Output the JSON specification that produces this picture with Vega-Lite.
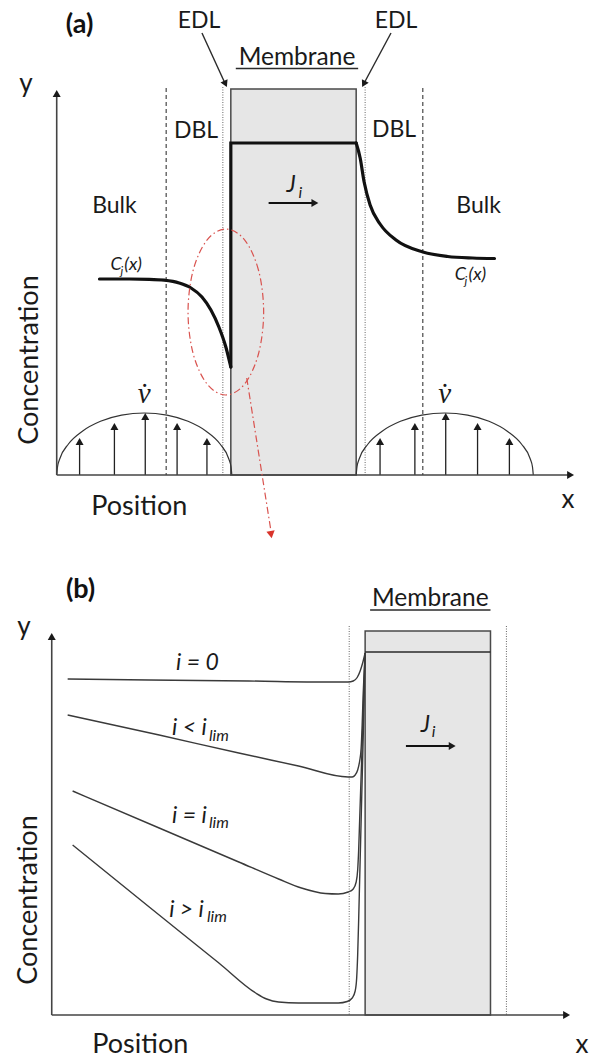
{
  "$schema": "https://vega.github.io/schema/vega-lite/v6.json",
  "width": 589,
  "height": 1059,
  "autosize": {"type": "fit", "contains": "padding"},
  "padding": 0,
  "background": "white",
  "config": {"view": {"stroke": null}},
  "datasets": {
    "membranes": [
      {"x": 232, "x2": 358, "y": 89, "y2": 475},
      {"x": 367, "x2": 493, "y": 631, "y2": 1015}
    ],
    "dbl": [
      {"x": 167, "y": 88, "y2": 475},
      {"x": 425, "y": 88, "y2": 475}
    ],
    "edl": [
      {"x": 224, "y": 87, "y2": 475},
      {"x": 367, "y": 87, "y2": 475},
      {"x": 351, "y": 626, "y2": 1015},
      {"x": 509, "y": 626, "y2": 1015}
    ],
    "axes": [
      {"x": 57, "y": 475, "x2": 57, "y2": 94},
      {"x": 57, "y": 475, "x2": 572, "y2": 475},
      {"x": 52, "y": 1015, "x2": 52, "y2": 637},
      {"x": 52, "y": 1015, "x2": 568, "y2": 1015}
    ],
    "thinRules": [
      {"x": 367, "y": 652, "x2": 493, "y2": 652},
      {"x": 237, "y": 68.5, "x2": 360, "y2": 68.5},
      {"x": 372, "y": 610, "x2": 493, "y2": 610},
      {"x": 203, "y": 33, "x2": 226.5, "y2": 84},
      {"x": 393, "y": 33, "x2": 365.5, "y2": 84}
    ],
    "fluxArrows": [
      {"x": 270, "y": 203, "x2": 315, "y2": 203},
      {"x": 408, "y": 746, "x2": 453, "y2": 746}
    ],
    "redPointer": [
      {"x": 248, "y": 378, "x2": 272.5, "y2": 532}
    ],
    "velocity": [
      {"x": 80, "y": 475, "y2": 442},
      {"x": 115, "y": 475, "y2": 427},
      {"x": 146, "y": 475, "y2": 417},
      {"x": 178, "y": 475, "y2": 427},
      {"x": 208, "y": 475, "y2": 442},
      {"x": 382, "y": 475, "y2": 442},
      {"x": 417, "y": 475, "y2": 427},
      {"x": 448, "y": 475, "y2": 417},
      {"x": 480, "y": 475, "y2": 427},
      {"x": 512, "y": 475, "y2": 442}
    ],
    "arrowheads": [
      {"dir": "up", "x": 57, "y": 93.5},
      {"dir": "up", "x": 52, "y": 636.5},
      {"dir": "up", "x": 80, "y": 441.5},
      {"dir": "up", "x": 115, "y": 426.5},
      {"dir": "up", "x": 146, "y": 416.5},
      {"dir": "up", "x": 178, "y": 426.5},
      {"dir": "up", "x": 208, "y": 441.5},
      {"dir": "up", "x": 382, "y": 441.5},
      {"dir": "up", "x": 417, "y": 426.5},
      {"dir": "up", "x": 448, "y": 416.5},
      {"dir": "up", "x": 480, "y": 426.5},
      {"dir": "up", "x": 512, "y": 441.5},
      {"dir": "right", "x": 573.5, "y": 475},
      {"dir": "right", "x": 569.5, "y": 1015},
      {"dir": "right", "x": 316.5, "y": 203},
      {"dir": "right", "x": 454.5, "y": 746},
      {"dir": "edlL", "x": 226.6, "y": 83.9},
      {"dir": "edlR", "x": 365.6, "y": 84},
      {"dir": "red", "x": 272.5, "y": 534.6}
    ],
    "arcs": [
      {"side": "L", "x": 57, "y": 475},
      {"side": "L", "x": 57.8, "y": 466.9},
      {"side": "L", "x": 60, "y": 459},
      {"side": "L", "x": 68.8, "y": 444},
      {"side": "L", "x": 82.8, "y": 431.2},
      {"side": "L", "x": 101, "y": 421.3},
      {"side": "L", "x": 122.2, "y": 415.1},
      {"side": "L", "x": 145, "y": 413},
      {"side": "L", "x": 167.8, "y": 415.1},
      {"side": "L", "x": 189, "y": 421.3},
      {"side": "L", "x": 207.2, "y": 431.2},
      {"side": "L", "x": 221.2, "y": 444},
      {"side": "L", "x": 230, "y": 459},
      {"side": "L", "x": 232.2, "y": 466.9},
      {"side": "L", "x": 233, "y": 475},
      {"side": "R", "x": 358, "y": 475},
      {"side": "R", "x": 358.8, "y": 466.9},
      {"side": "R", "x": 361, "y": 459},
      {"side": "R", "x": 369.9, "y": 444},
      {"side": "R", "x": 384.1, "y": 431.2},
      {"side": "R", "x": 402.5, "y": 421.3},
      {"side": "R", "x": 424, "y": 415.1},
      {"side": "R", "x": 447, "y": 413},
      {"side": "R", "x": 470, "y": 415.1},
      {"side": "R", "x": 491.5, "y": 421.3},
      {"side": "R", "x": 509.9, "y": 431.2},
      {"side": "R", "x": 524.1, "y": 444},
      {"side": "R", "x": 533, "y": 459},
      {"side": "R", "x": 535.2, "y": 466.9},
      {"side": "R", "x": 536, "y": 475}
    ],
    "profileA": [
      {"part": "left", "k": 0, "x": 100, "y": 279},
      {"part": "left", "k": 1, "x": 130, "y": 279},
      {"part": "left", "k": 2, "x": 150, "y": 279.3},
      {"part": "left", "k": 3, "x": 165, "y": 280.2},
      {"part": "left", "k": 4, "x": 180, "y": 283},
      {"part": "left", "k": 5, "x": 192, "y": 288},
      {"part": "left", "k": 6, "x": 203, "y": 297},
      {"part": "left", "k": 7, "x": 212, "y": 310},
      {"part": "left", "k": 8, "x": 220, "y": 327},
      {"part": "left", "k": 9, "x": 227, "y": 347},
      {"part": "left", "k": 10, "x": 232, "y": 367},
      {"part": "step", "k": 11, "x": 232, "y": 367},
      {"part": "step", "k": 12, "x": 232, "y": 143},
      {"part": "step", "k": 13, "x": 358, "y": 143},
      {"part": "right", "k": 14, "x": 358, "y": 143},
      {"part": "right", "k": 15, "x": 362, "y": 158},
      {"part": "right", "k": 16, "x": 366, "y": 182},
      {"part": "right", "k": 17, "x": 372, "y": 205},
      {"part": "right", "k": 18, "x": 382, "y": 224},
      {"part": "right", "k": 19, "x": 398, "y": 240},
      {"part": "right", "k": 20, "x": 425, "y": 252},
      {"part": "right", "k": 21, "x": 450, "y": 256.5},
      {"part": "right", "k": 22, "x": 475, "y": 258},
      {"part": "right", "k": 23, "x": 497, "y": 258.5}
    ],
    "curvesB": [
      {"s": "i0", "x": 68, "y": 679},
      {"s": "i0", "x": 150, "y": 680},
      {"s": "i0", "x": 250, "y": 681},
      {"s": "i0", "x": 330, "y": 682},
      {"s": "i0", "x": 350, "y": 682},
      {"s": "i0", "x": 355, "y": 681},
      {"s": "i0", "x": 359, "y": 677.5},
      {"s": "i0", "x": 362, "y": 671},
      {"s": "i0", "x": 364.5, "y": 663},
      {"s": "i0", "x": 367, "y": 653},
      {"s": "ilt", "x": 68, "y": 715},
      {"s": "ilt", "x": 160, "y": 735},
      {"s": "ilt", "x": 240, "y": 753},
      {"s": "ilt", "x": 300, "y": 766},
      {"s": "ilt", "x": 350, "y": 777},
      {"s": "ilt", "x": 354, "y": 777},
      {"s": "ilt", "x": 357, "y": 775},
      {"s": "ilt", "x": 359.5, "y": 770},
      {"s": "ilt", "x": 361.5, "y": 761},
      {"s": "ilt", "x": 363, "y": 748},
      {"s": "ilt", "x": 364, "y": 725},
      {"s": "ilt", "x": 365, "y": 695},
      {"s": "ilt", "x": 366, "y": 672},
      {"s": "ilt", "x": 367, "y": 653},
      {"s": "ieq", "x": 73, "y": 791},
      {"s": "ieq", "x": 160, "y": 828},
      {"s": "ieq", "x": 240, "y": 862},
      {"s": "ieq", "x": 280, "y": 879},
      {"s": "ieq", "x": 303, "y": 888},
      {"s": "ieq", "x": 327, "y": 893.5},
      {"s": "ieq", "x": 340, "y": 894},
      {"s": "ieq", "x": 350, "y": 892},
      {"s": "ieq", "x": 355, "y": 889},
      {"s": "ieq", "x": 358, "y": 882},
      {"s": "ieq", "x": 359.5, "y": 870},
      {"s": "ieq", "x": 360.5, "y": 850},
      {"s": "ieq", "x": 361.5, "y": 820},
      {"s": "ieq", "x": 362.5, "y": 790},
      {"s": "ieq", "x": 363.5, "y": 760},
      {"s": "ieq", "x": 365, "y": 715},
      {"s": "ieq", "x": 366, "y": 680},
      {"s": "ieq", "x": 367, "y": 653},
      {"s": "igt", "x": 73, "y": 845},
      {"s": "igt", "x": 150, "y": 907},
      {"s": "igt", "x": 220, "y": 963},
      {"s": "igt", "x": 257, "y": 993},
      {"s": "igt", "x": 268, "y": 999},
      {"s": "igt", "x": 280, "y": 1002},
      {"s": "igt", "x": 300, "y": 1003},
      {"s": "igt", "x": 340, "y": 1003},
      {"s": "igt", "x": 349, "y": 1001.5},
      {"s": "igt", "x": 354, "y": 998},
      {"s": "igt", "x": 357, "y": 991},
      {"s": "igt", "x": 358.5, "y": 978},
      {"s": "igt", "x": 359.5, "y": 955},
      {"s": "igt", "x": 360.5, "y": 920},
      {"s": "igt", "x": 361.5, "y": 880},
      {"s": "igt", "x": 362.5, "y": 840},
      {"s": "igt", "x": 363.5, "y": 800},
      {"s": "igt", "x": 364.5, "y": 760},
      {"s": "igt", "x": 365.5, "y": 720},
      {"s": "igt", "x": 366.3, "y": 685},
      {"s": "igt", "x": 367, "y": 653}
    ],
    "ellipse": [
      {"k": 0, "x": 265, "y": 312},
      {"k": 1, "x": 259.9, "y": 270.5},
      {"k": 2, "x": 246, "y": 240.1},
      {"k": 3, "x": 227, "y": 229},
      {"k": 4, "x": 208, "y": 240.1},
      {"k": 5, "x": 194.1, "y": 270.5},
      {"k": 6, "x": 189, "y": 312},
      {"k": 7, "x": 194.1, "y": 353.5},
      {"k": 8, "x": 208, "y": 383.9},
      {"k": 9, "x": 227, "y": 395},
      {"k": 10, "x": 246, "y": 383.9},
      {"k": 11, "x": 259.9, "y": 353.5}
    ],
    "labels": [
      {"role": "region", "t": "EDL", "x": 200, "y": 28},
      {"role": "region", "t": "EDL", "x": 398, "y": 28},
      {"role": "region", "t": "DBL", "x": 197, "y": 138},
      {"role": "region", "t": "DBL", "x": 396, "y": 137},
      {"role": "region", "t": "Bulk", "x": 115, "y": 213},
      {"role": "region", "t": "Bulk", "x": 481, "y": 213},
      {"role": "membrane", "t": "Membrane", "x": 298.5, "y": 65},
      {"role": "membrane", "t": "Membrane", "x": 432.5, "y": 606},
      {"role": "axisLetter", "t": "y", "x": 26, "y": 92},
      {"role": "axisLetter", "t": "x", "x": 571, "y": 508},
      {"role": "axisLetter", "t": "y", "x": 24, "y": 635},
      {"role": "axisLetter", "t": "x", "x": 585, "y": 1053},
      {"role": "axisTitle", "t": "Position", "x": 140, "y": 515},
      {"role": "axisTitle", "t": "Position", "x": 141, "y": 1053},
      {"role": "axisTitleV", "t": "Concentration", "x": 38, "y": 360},
      {"role": "axisTitleV", "t": "Concentration", "x": 37, "y": 900},
      {"role": "tag", "t": "(a)", "x": 80, "y": 33},
      {"role": "tag", "t": "(b)", "x": 81, "y": 598},
      {"role": "italic", "t": "i = 0", "x": 177, "y": 670},
      {"role": "italic", "t": "i < i", "x": 173, "y": 735},
      {"role": "italic", "t": "i = i", "x": 173, "y": 823},
      {"role": "italic", "t": "i > i", "x": 170, "y": 917},
      {"role": "italic", "t": "J", "x": 288, "y": 192},
      {"role": "italic", "t": "J", "x": 423, "y": 732},
      {"role": "sub", "t": "lim", "x": 210, "y": 741},
      {"role": "sub", "t": "lim", "x": 210, "y": 828},
      {"role": "sub", "t": "lim", "x": 208, "y": 922},
      {"role": "sub", "t": "i", "x": 300, "y": 198},
      {"role": "sub", "t": "i", "x": 434, "y": 737},
      {"role": "conc", "t": "C", "x": 111, "y": 270},
      {"role": "conc", "t": "(x)", "x": 125, "y": 270},
      {"role": "conc", "t": "C", "x": 457, "y": 280},
      {"role": "conc", "t": "(x)", "x": 471, "y": 280},
      {"role": "concSub", "t": "j", "x": 121, "y": 275},
      {"role": "concSub", "t": "j", "x": 467, "y": 285},
      {"role": "vel", "t": "v̇", "x": 145, "y": 403},
      {"role": "vel", "t": "v̇", "x": 447, "y": 403}
    ]
  },
  "encoding": {
    "x": {"field": "x", "type": "quantitative", "scale": {"domain": [0, 589], "nice": false, "zero": false}, "axis": null},
    "y": {"field": "y", "type": "quantitative", "scale": {"domain": [0, 1059], "nice": false, "zero": false, "reverse": true}, "axis": null}
  },
  "layer": [
    {
      "data": {"name": "membranes"},
      "mark": {"type": "rect", "fill": "#e6e6e6", "stroke": "#4a4a4a", "strokeWidth": 1.5},
      "encoding": {"x2": {"field": "x2"}, "y2": {"field": "y2"}}
    },
    {
      "data": {"name": "dbl"},
      "mark": {"type": "rule", "stroke": "#222222", "strokeWidth": 1, "strokeDash": [4, 3]},
      "encoding": {"y2": {"field": "y2"}}
    },
    {
      "data": {"name": "edl"},
      "mark": {"type": "rule", "stroke": "#666666", "strokeWidth": 1, "strokeDash": [1, 1.5]},
      "encoding": {"y2": {"field": "y2"}}
    },
    {
      "data": {"name": "arcs"},
      "mark": {"type": "line", "stroke": "#333333", "strokeWidth": 1.2, "interpolate": "monotone"},
      "encoding": {"detail": {"field": "side"}}
    },
    {
      "data": {"name": "velocity"},
      "mark": {"type": "rule", "stroke": "#222222", "strokeWidth": 1.3},
      "encoding": {"y2": {"field": "y2"}}
    },
    {
      "data": {"name": "axes"},
      "mark": {"type": "rule", "stroke": "#444444", "strokeWidth": 1.6},
      "encoding": {"x2": {"field": "x2"}, "y2": {"field": "y2"}}
    },
    {
      "data": {"name": "thinRules"},
      "mark": {"type": "rule", "stroke": "#2a2a2a", "strokeWidth": 1.4},
      "encoding": {"x2": {"field": "x2"}, "y2": {"field": "y2"}}
    },
    {
      "data": {"name": "fluxArrows"},
      "mark": {"type": "rule", "stroke": "#111111", "strokeWidth": 2},
      "encoding": {"x2": {"field": "x2"}, "y2": {"field": "y2"}}
    },
    {
      "data": {"name": "curvesB"},
      "mark": {"type": "line", "stroke": "#3a3a3a", "strokeWidth": 1.4, "interpolate": "monotone"},
      "encoding": {"detail": {"field": "s"}}
    },
    {
      "data": {"name": "profileA"},
      "transform": [{"filter": "datum.part !== 'step'"}],
      "mark": {"type": "line", "stroke": "#111111", "strokeWidth": 3.2, "strokeCap": "round", "interpolate": "monotone"},
      "encoding": {"detail": {"field": "part"}}
    },
    {
      "data": {"name": "profileA"},
      "transform": [{"filter": "datum.part === 'step'"}],
      "mark": {"type": "line", "stroke": "#111111", "strokeWidth": 3.2, "strokeCap": "round", "strokeJoin": "miter"},
      "encoding": {"order": {"field": "k"}}
    },
    {
      "data": {"name": "ellipse"},
      "mark": {"type": "line", "stroke": "#d9534f", "strokeWidth": 1.2, "strokeDash": [7, 3, 1.5, 3], "interpolate": "cardinal-closed"},
      "encoding": {"order": {"field": "k"}}
    },
    {
      "data": {"name": "redPointer"},
      "mark": {"type": "rule", "stroke": "#d9534f", "strokeWidth": 1.2, "strokeDash": [7, 3, 1.5, 3]},
      "encoding": {"x2": {"field": "x2"}, "y2": {"field": "y2"}}
    },
    {
      "data": {"name": "arrowheads"},
      "transform": [{"filter": "datum.dir === 'up'"}],
      "mark": {"type": "point", "shape": "triangle-up", "filled": true, "size": 64, "color": "#1a1a1a", "opacity": 1}
    },
    {
      "data": {"name": "arrowheads"},
      "transform": [{"filter": "datum.dir === 'right'"}],
      "mark": {"type": "point", "shape": "triangle-right", "filled": true, "size": 64, "color": "#1a1a1a", "opacity": 1}
    },
    {
      "data": {"name": "arrowheads"},
      "transform": [{"filter": "datum.dir === 'edlL'"}],
      "mark": {"type": "point", "shape": "triangle-down", "filled": true, "size": 60, "angle": 335, "color": "#1a1a1a", "opacity": 1}
    },
    {
      "data": {"name": "arrowheads"},
      "transform": [{"filter": "datum.dir === 'edlR'"}],
      "mark": {"type": "point", "shape": "triangle-down", "filled": true, "size": 60, "angle": 28, "color": "#1a1a1a", "opacity": 1}
    },
    {
      "data": {"name": "arrowheads"},
      "transform": [{"filter": "datum.dir === 'red'"}],
      "mark": {"type": "point", "shape": "triangle-down", "filled": true, "size": 70, "angle": 351, "color": "#d9342b", "opacity": 1}
    },
    {
      "data": {"name": "labels"},
      "transform": [{"filter": "datum.role === 'region'"}],
      "mark": {"type": "text", "font": "Lato", "fontSize": 23, "align": "center", "baseline": "alphabetic", "color": "#1a1a1a"},
      "encoding": {"text": {"field": "t"}}
    },
    {
      "data": {"name": "labels"},
      "transform": [{"filter": "datum.role === 'membrane'"}],
      "mark": {"type": "text", "font": "Lato", "fontSize": 24.5, "align": "center", "baseline": "alphabetic", "color": "#1a1a1a"},
      "encoding": {"text": {"field": "t"}}
    },
    {
      "data": {"name": "labels"},
      "transform": [{"filter": "datum.role === 'axisLetter'"}],
      "mark": {"type": "text", "font": "Lato", "fontSize": 26, "align": "center", "baseline": "alphabetic", "color": "#1a1a1a"},
      "encoding": {"text": {"field": "t"}}
    },
    {
      "data": {"name": "labels"},
      "transform": [{"filter": "datum.role === 'axisTitle'"}],
      "mark": {"type": "text", "font": "Lato", "fontSize": 27, "align": "center", "baseline": "alphabetic", "color": "#1a1a1a"},
      "encoding": {"text": {"field": "t"}}
    },
    {
      "data": {"name": "labels"},
      "transform": [{"filter": "datum.role === 'axisTitleV'"}],
      "mark": {"type": "text", "font": "Lato", "fontSize": 27, "align": "center", "baseline": "alphabetic", "angle": 270, "color": "#1a1a1a"},
      "encoding": {"text": {"field": "t"}}
    },
    {
      "data": {"name": "labels"},
      "transform": [{"filter": "datum.role === 'tag'"}],
      "mark": {"type": "text", "font": "Lato", "fontSize": 27, "fontWeight": "bold", "align": "center", "baseline": "alphabetic", "color": "#111111"},
      "encoding": {"text": {"field": "t"}}
    },
    {
      "data": {"name": "labels"},
      "transform": [{"filter": "datum.role === 'italic'"}],
      "mark": {"type": "text", "font": "Lato", "fontSize": 23, "fontStyle": "italic", "align": "left", "baseline": "alphabetic", "color": "#1a1a1a"},
      "encoding": {"text": {"field": "t"}}
    },
    {
      "data": {"name": "labels"},
      "transform": [{"filter": "datum.role === 'sub'"}],
      "mark": {"type": "text", "font": "Lato", "fontSize": 16, "fontStyle": "italic", "align": "left", "baseline": "alphabetic", "color": "#1a1a1a"},
      "encoding": {"text": {"field": "t"}}
    },
    {
      "data": {"name": "labels"},
      "transform": [{"filter": "datum.role === 'conc'"}],
      "mark": {"type": "text", "font": "Lato", "fontSize": 18, "fontStyle": "italic", "align": "left", "baseline": "alphabetic", "color": "#1a1a1a"},
      "encoding": {"text": {"field": "t"}}
    },
    {
      "data": {"name": "labels"},
      "transform": [{"filter": "datum.role === 'concSub'"}],
      "mark": {"type": "text", "font": "Lato", "fontSize": 12, "fontStyle": "italic", "align": "left", "baseline": "alphabetic", "color": "#1a1a1a"},
      "encoding": {"text": {"field": "t"}}
    },
    {
      "data": {"name": "labels"},
      "transform": [{"filter": "datum.role === 'vel'"}],
      "mark": {"type": "text", "font": "Liberation Serif", "fontSize": 29, "fontStyle": "italic", "align": "center", "baseline": "alphabetic", "color": "#1a1a1a"},
      "encoding": {"text": {"field": "t"}}
    }
  ]
}
